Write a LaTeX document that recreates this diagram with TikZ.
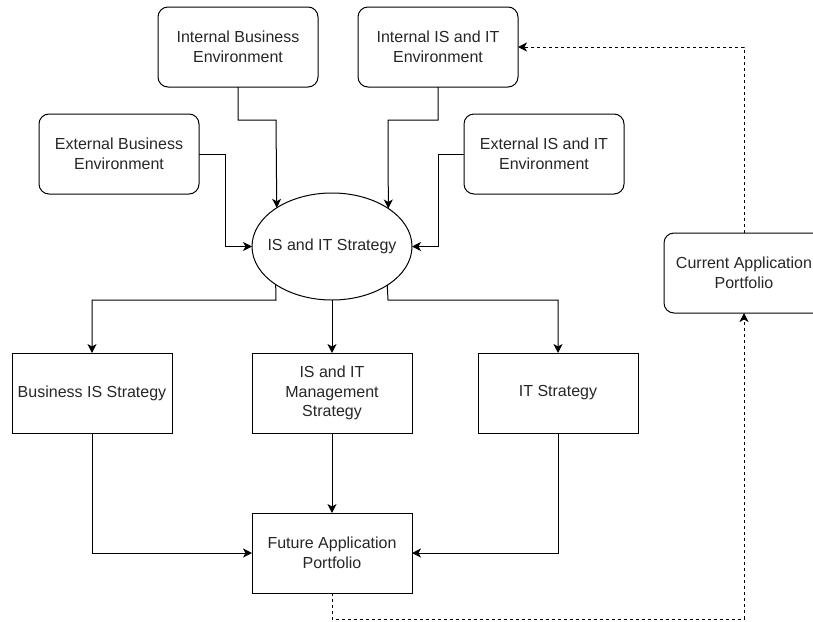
\documentclass[tikz,border=0pt]{standalone}
\usepackage{fontspec}
\setmainfont{Liberation Sans}
\usetikzlibrary{arrows.meta,shapes.geometric}
\begin{document}
\begin{tikzpicture}[x=1pt,y=-1pt,
  every node/.style={font=\fontsize{16}{19.5}\selectfont, text=black!85, align=center},
  rbox/.style={draw, line width=1pt, rounded corners=10pt, minimum width=160pt, minimum height=80pt, inner sep=0pt, outer sep=0pt},
  sbox/.style={draw, line width=1pt, minimum width=160pt, minimum height=80pt, inner sep=0pt, outer sep=0pt},
  ell/.style={draw, ellipse, line width=1pt, minimum width=160pt, minimum height=107pt, inner sep=0pt, outer sep=0pt},
  conn/.style={line width=1pt, -{Stealth[length=9pt,width=9pt,inset=2.5pt]}},
  dconn/.style={conn, dash pattern=on 3pt off 3pt}]
\useasboundingbox (0,0) rectangle (813,621);

\node[rbox] (ib)  at (238,47)  {Internal Business\\Environment};
\node[rbox] (iit) at (438,47)  {Internal IS and IT\\Environment};
\node[rbox] (eb)  at (119,154) {External Business\\Environment};
\node[rbox] (eit) at (544,154) {External IS and IT\\Environment};
\node[ell]  (st)  at (332,246.5) {\makebox[0pt]{IS and IT Strategy}};
\node[rbox] (cur) at (744,273) {Current Application\\Portfolio};
\node[sbox] (bis) at (92,393)  {Business IS Strategy};
\node[sbox] (mg)  at (332,393) {IS and IT\\Management\\Strategy};
\node[sbox] (its) at (558,393) {IT Strategy};
\node[sbox] (fut) at (332,553) {Future Application\\Portfolio};

\draw[conn] (ib.south) |- (276,120) -- (st.145.7);
\draw[conn] (iit.south) |- (388,120) -- (st.34.3);
\draw[conn] (eb.east) -- (225,154) |- (st.west);
\draw[conn] (eit.west) -- (438,154) |- (st.east);

\draw[conn] (st.214.3) -- (276,300) -| (bis.north);
\draw[conn] (st.south) -- (mg.north);
\draw[conn] (st.325.7) -- (388,300) -| (its.north);

\draw[conn] (bis.south) |- (fut.west);
\draw[conn] (mg.south) -- (fut.north);
\draw[conn] (its.south) |- (fut.east);

\draw[dconn] (fut.south) -- (332,619) -| (cur.south);
\draw[dconn] (cur.north) |- (iit.east);
\end{tikzpicture}
\end{document}
